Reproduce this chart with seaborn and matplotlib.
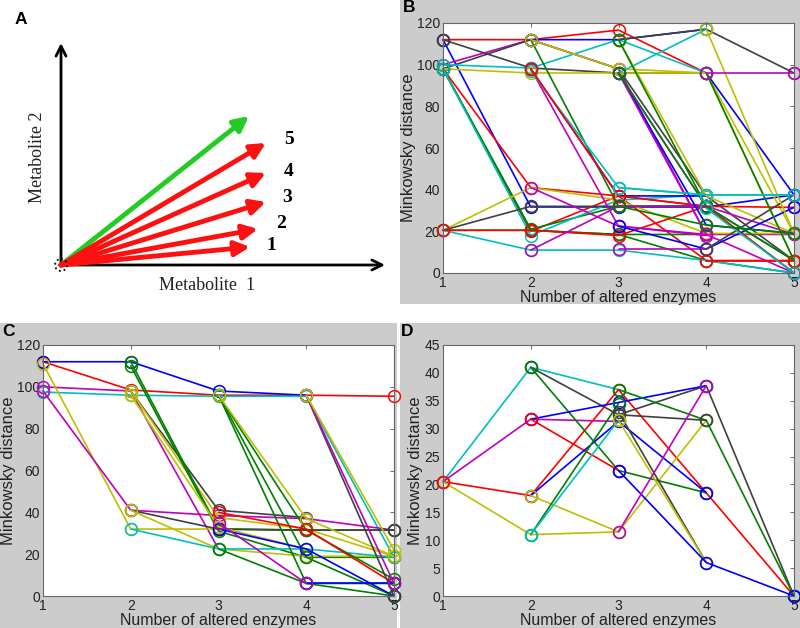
import numpy as np
import pandas as pd
import matplotlib.pyplot as plt
from matplotlib.patches import Rectangle, Circle
import seaborn as sns

nan = np.nan
enzymes = [1, 2, 3, 4, 5]

# MATLAB default line colours, one letter per trace below
matlab_colors = {
    'b': (0, 0, 1), 'g': (0, 0.5, 0), 'r': (1, 0, 0), 'c': (0, 0.75, 0.75),
    'm': (0.75, 0, 0.75), 'y': (0.75, 0.75, 0), 'k': (0.25, 0.25, 0.25),
}

# --- panel A: schematic, coordinates in panel pixels (origin of vectors at 61, 265)
vec_origin = (61, 265)
red_tip_x = [250, 258, 266, 266, 266]
red_tip_y = [247, 229, 202, 173, 143]
green_tip = (249, 116)
vec_labels = ['1', '2', '3', '4', '5']
vec_label_x = [266, 276, 282, 284, 284]
vec_label_y = [246, 224, 197, 172, 139]

# --- panel B: Minkowsky distance traces (values at 1..5 altered enzymes)
b_paths = [
    [112, 112, 116.6, 96, nan],
    [112, 31.7, 31.7, 31.7, 37.5],
    [112, 98.4, 96, 96, nan],
    [100, 112, 98, 18.5, 18.5],
    [98, 112, 98, 37, 6],
    [100, 98.4, 112, 96, nan],
    [98, 96, 96, 96, 19],
    [98, 41, 37, 32, 31.5],
    [98, 20, 37, 6, 6],
    [98, 20.5, 18.5, 18.5, nan],
    [98, 21, 32, 32, nan],
    [98, 18, 35, 37.5, 37.5],
    [20.5, 20.5, 18.5, 6, 0],
    [20.5, 41, 35, 19, 19],
    [20.5, 32, 32, 32, nan],
    [20.5, 11, 11, 6, 0],
    [20.5, 20.5, 18, 32, nan],
    [nan, 112, 32, 32, 0],
    [nan, 112, 112, 117, nan],
    [nan, 112, 98, 96, nan],
    [nan, 98, 37, 37, nan],
    [nan, 98, 22.5, 18.5, nan],
    [nan, 97, 41, 37.5, nan],
    [nan, 98, 37, 32, 0],
    [nan, 41, 22.5, 18, nan],
    [nan, 11, 32, 32, nan],
    [nan, nan, 112, 117, 96],
    [nan, nan, 96, 117, nan],
    [nan, nan, 112, 37, 19],
    [nan, nan, 112, 32, 6],
    [nan, nan, 96, 32, 18.5],
    [nan, nan, 96, 23, 19],
    [nan, nan, 96, 18.5, 0],
    [nan, nan, 22.5, 11.5, 31.5],
    [nan, nan, 11.5, 11.5, nan],
    [nan, nan, nan, 11.5, 37.5],
    [nan, nan, 96, 32, 6],
    [nan, nan, nan, 96, 37.5],
    [nan, nan, nan, 117, 19],
    [nan, nan, nan, 96, 6],
    [nan, nan, nan, 96, 6],
    [nan, nan, 41, 37.5, 37.5],
    [nan, nan, nan, 6, 6],
    [nan, nan, nan, 31, 0],
    [nan, nan, 32, 23, 19],
    [nan, nan, nan, 96, 96],
]
b_colors = "rbkmkcyrrggcgykcrgbybmcrmmkcygmbmbmkgbyygcrcgm"

# --- panel C
c_paths = [
    [112, 98.5, 96, 96, 95.5],
    [112, 112, 98, 96, nan],
    [100, 98, 22.5, nan, nan],
    [97.5, 96, 95.5, 95.5, 18.5],
    [111, 32, 32, 31.5, nan],
    [98, 41, 38.5, 37, 31.5],
    [nan, 98, 41, 37.5, nan],
    [nan, 98, 37.5, 32, 19],
    [nan, 112, 32, 31.5, 31.5],
    [nan, 110, 31, 18.5, 18.5],
    [nan, 41, 32, 31.5, 31.5],
    [nan, 41, 22.5, 19, 19],
    [nan, 32, 22.5, 22.5, 18.5],
    [nan, 96, 33, 22.5, nan],
    [nan, nan, 96, 31.5, 8],
    [nan, nan, 96, 18.5, 0],
    [nan, nan, 96, 6, 6],
    [nan, nan, 96, 37, 19],
    [nan, nan, 40, 32, 6],
    [nan, nan, 32, 22.5, 0],
    [nan, nan, 22.5, 6, 0],
    [nan, nan, nan, 6, 6],
    [nan, nan, nan, 96, 0],
    [nan, nan, nan, 96, 6],
    [nan, nan, nan, 96, 22],
    [nan, nan, 35, 6, nan],
]
c_colors = "rbmcymkyggkycygggyrbgbkmym"

# --- panel D
d_paths = [
    [20.5, 41, 37, nan, nan],
    [20.5, 31.7, 31.3, nan, nan],
    [20.5, 18, 37, 18.5, 0],
    [20.5, 11, 11.5, 31.5, nan],
    [nan, 41, 32.5, 37.7, 0],
    [nan, 41, 22.5, 18.5, nan],
    [nan, 31.7, 34.7, 37.7, nan],
    [nan, 31.7, 22.5, nan, nan],
    [nan, 18, 31.3, 18.5, nan],
    [nan, 18, 11.5, nan, nan],
    [nan, 11, 34.5, nan, nan],
    [nan, 11, 31.5, nan, nan],
    [nan, nan, 37, 31.5, 0],
    [nan, nan, 32.5, 31.5, nan],
    [nan, nan, 33, 6, nan],
    [nan, nan, 31.5, 6, nan],
    [nan, nan, 22.5, 6, 0],
    [nan, nan, 11.5, 37.7, nan],
    [20.5, nan, nan, nan, nan],
]
d_colors = "cmrykgbrbygcgkkybmr"

sns.set_theme(style='white')
plt.rcParams['font.family'] = ['Liberation Sans', 'DejaVu Sans']

W, H = 800, 628
fig = plt.figure(figsize=(8, 6.28), dpi=100)
fig.patch.set_facecolor('white')


def fbox(x0, y0, x1, y1):
    # pixel box (top-left origin) -> figure fraction [left, bottom, w, h]
    return [x0 / W, 1 - y1 / H, (x1 - x0) / W, (y1 - y0) / H]


grey = '#cccccc'
for box in [(400, 0, 800, 304), (0, 323, 397, 628), (400, 323, 800, 628)]:
    l, b, w, h = fbox(*box)
    fig.add_artist(Rectangle((l, b), w, h, transform=fig.transFigure,
                             facecolor=grey, edgecolor='none', zorder=-5))


def draw_panel(ax, paths, colors, ymax, ystep):
    for vals, c in zip(paths, colors):
        s = pd.Series(vals, index=enzymes).dropna()
        col = matlab_colors[c]
        sns.lineplot(x=s.index.to_numpy(), y=s.to_numpy(), ax=ax, color=col,
                     marker='o', markersize=8.5, mfc='none', mec=col, mew=1.1,
                     lw=1.2, clip_on=False)
    ax.set_xlim(1, 5)
    ax.set_ylim(0, ymax)
    ax.set_xticks(enzymes)
    ax.set_yticks(np.arange(0, ymax + 1, ystep))
    ax.set_facecolor('white')
    ax.tick_params(direction='in', top=True, right=True, length=3,
                   width=0.6, color='#555555', labelsize=10,
                   labelcolor='#222222', pad=2)
    for sp in ax.spines.values():
        sp.set_color('#666666')
        sp.set_linewidth(0.8)
    ax.set_xlabel('Number of altered enzymes', fontsize=11.5, color='#222222',
                  labelpad=0)
    ax.set_ylabel('Minkowsky distance', fontsize=12, color='#222222',
                  labelpad=1)


ax_b = fig.add_axes(fbox(443, 23, 794, 273))
draw_panel(ax_b, b_paths, b_colors, 120, 20)
ax_c = fig.add_axes(fbox(43, 345, 394, 596))
draw_panel(ax_c, c_paths, c_colors, 120, 20)
ax_d = fig.add_axes(fbox(443, 345, 794, 596))
draw_panel(ax_d, d_paths, d_colors, 45, 5)

# panel A schematic
ax_a = fig.add_axes(fbox(0, 0, 400, 304))
ax_a.set_xlim(0, 400)
ax_a.set_ylim(304, 0)
ax_a.axis('off')
axis_kw = dict(arrowstyle='->', color='black', lw=2, mutation_scale=18,
               shrinkA=0, shrinkB=0)
ax_a.annotate('', xy=(61, 43), xytext=(61, 266), arrowprops=axis_kw)
ax_a.annotate('', xy=(385, 265), xytext=(60, 265), arrowprops=axis_kw)
ax_a.annotate('', xy=green_tip, xytext=vec_origin,
              arrowprops=dict(arrowstyle='-|>', color='#22cc22', lw=3.5,
                              mutation_scale=22, shrinkA=0, shrinkB=0))
for tx, ty, lab, lx, ly in zip(red_tip_x, red_tip_y, vec_labels,
                               vec_label_x, vec_label_y):
    ax_a.annotate('', xy=(tx, ty), xytext=vec_origin,
                  arrowprops=dict(arrowstyle='-|>', color='#ff1010', lw=3.5,
                                  mutation_scale=22, shrinkA=0, shrinkB=0))
    ax_a.text(lx, ly, lab, fontsize=14, fontweight='bold', ha='left',
              va='center', family='Liberation Serif', color='black')
ax_a.add_patch(Circle(vec_origin, 6, fill=False, ls=':', lw=1.3,
                      ec='black', zorder=5))
ax_a.text(207, 286, 'Metabolite  1', fontsize=13, ha='center', va='center',
          family='Liberation Serif', color='#222222')
ax_a.text(38, 157, 'Metabolite 2', fontsize=13, ha='center', va='center',
          rotation=90, family='Liberation Serif', color='#222222')

# panel letters
for lab, px, py in [('A', 15, 20), ('B', 403, 8), ('C', 2, 331), ('D', 401, 331)]:
    fig.text(px / W, 1 - py / H, lab, fontsize=12.5, fontweight='bold',
             ha='left', va='center', color='black')

fig.savefig('out.png', dpi=100)
